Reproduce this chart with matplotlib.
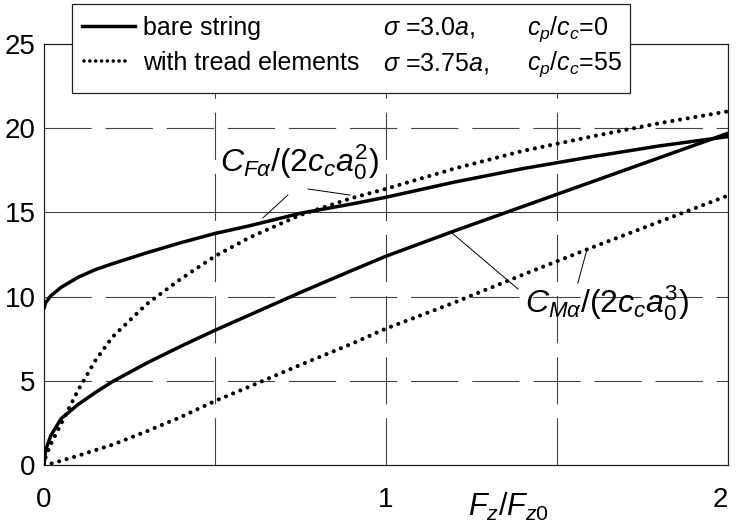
import matplotlib
matplotlib.use("Agg")
import matplotlib.pyplot as plt
from matplotlib.lines import Line2D
from matplotlib.patches import Rectangle

plt.rcParams['font.family'] = ['Liberation Sans', 'DejaVu Sans']
plt.rcParams['mathtext.fontset'] = 'custom'
plt.rcParams['mathtext.rm'] = 'Liberation Sans'
plt.rcParams['mathtext.it'] = 'Liberation Sans:italic'
plt.rcParams['mathtext.bf'] = 'Liberation Sans:bold'
plt.rcParams['lines.scale_dashes'] = False

# F_z / F_z0 sample points
fz = [0, 0.005, 0.02, 0.05, 0.1, 0.15, 0.2, 0.3, 0.4, 0.5, 0.6, 0.75, 0.9,
      1.0, 1.2, 1.4, 1.6, 1.8, 2.0]

# bare string
cf_bare = [9.3, 9.65, 10.05, 10.55, 11.15, 11.6, 11.95, 12.6, 13.2, 13.75, 14.2,
           14.95, 15.5, 15.9, 16.8, 17.6, 18.3, 18.95, 19.5]
cm_bare = [0, 0.9, 1.75, 2.75, 3.6, 4.3, 4.95, 6.05, 7.05, 8.0, 8.9, 10.25, 11.55,
           12.4, 13.9, 15.35, 16.8, 18.25, 19.7]

# with tread elements
cf_tread = [0, 0.5, 1.25, 2.45, 4.45, 6.2, 7.6, 9.55, 11.05, 12.4, 13.5, 14.85,
            15.85, 16.4, 17.6, 18.65, 19.5, 20.3, 21.0]
cm_tread = [0, 0.02, 0.08, 0.25, 0.55, 0.88, 1.2, 2.0, 2.85, 3.8, 4.65, 5.95,
            7.2, 8.1, 9.65, 11.3, 12.9, 14.45, 16.0]

xticks = [0, 1, 2]
yticks = [0, 5, 10, 15, 20, 25]

W, H = 738, 526
fig = plt.figure(figsize=(W / 100, H / 100), dpi=100)
ax = fig.add_axes([44 / W, 1 - 465 / H, 684 / W, 421 / H])

# grid: dashed except the solid 15 line
grid_kw = dict(color='#444444', lw=0.8, zorder=1)
dash = (0, (34, 10))
for y in [5, 10, 20]:
    ax.axhline(y, linestyle=dash, **grid_kw)
ax.axhline(15, linestyle='-', **grid_kw)
for x in [0.5, 1.0, 1.5]:
    ax.axvline(x, linestyle=dash, **grid_kw)

solid_kw = dict(color='black', lw=2.5, solid_capstyle='round', zorder=3)
dot_kw = dict(color='black', lw=3.0, linestyle=(0, (0.01, 5.6)),
              dash_capstyle='round', zorder=3)
ax.plot(fz, cf_bare, **solid_kw)
ax.plot(fz, cm_bare, **solid_kw)
ax.plot(fz, cf_tread, **dot_kw)
ax.plot(fz, cm_tread, **dot_kw)

ax.set_xlim(0, 2)
ax.set_ylim(0, 25)
ax.set_xticks(xticks)
ax.set_yticks(yticks)
ax.tick_params(length=0, labelsize=20)
ax.tick_params(axis='x', pad=16)
ax.tick_params(axis='y', pad=6)
ax.get_xticklabels()[-1].set_ha('right')
for s in ax.spines.values():
    s.set_color('#222222')
    s.set_linewidth(0.9)

# curve labels with leader lines
ax.text(0.515, 17.4, r'$C_{F\alpha}/(2c_c a_0^2)$', fontsize=23, zorder=4)
ax.plot([0.713, 0.640], [16.03, 14.67], color='black', lw=0.7, zorder=4)
ax.plot([0.772, 0.895], [16.39, 16.03], color='black', lw=0.7, zorder=4)
ax.text(1.405, 9.03, r'$C_{M\alpha}/(2c_c a_0^3)$', fontsize=23, zorder=4)
ax.plot([1.193, 1.386], [13.78, 10.45], color='black', lw=0.7, zorder=4)
ax.plot([1.588, 1.561], [12.83, 10.81], color='black', lw=0.7, zorder=4)

fig.text(468 / W, 1 - 516 / H, r'$F_z/F_{z0}$', fontsize=22)

# legend box drawn in figure pixels
def fx(p):
    return p / W

def fy(p):
    return 1 - p / H

fig.add_artist(Rectangle((fx(72), fy(93)), fx(630) - fx(72), fy(4) - fy(93),
                         transform=fig.transFigure, facecolor='white',
                         edgecolor='#222222', lw=0.9, zorder=10))
fig.add_artist(Line2D([fx(82), fx(135)], [fy(26), fy(26)], color='black', lw=2.5,
                      zorder=11))
fig.add_artist(Line2D([fx(84), fx(128)], [fy(61), fy(61)], color='black', lw=2.6,
                      linestyle=(0, (0.01, 4.2)), dash_capstyle='round', zorder=11))
leg_kw = dict(fontsize=18, zorder=12, va='baseline')
fig.text(fx(143), fy(35), 'bare string', **leg_kw)
fig.text(fx(143), fy(70), 'with tread elements', **leg_kw)
fig.text(fx(383), fy(35), r'$\sigma$ =3.0$a$,', **leg_kw)
fig.text(fx(383), fy(70), r'$\sigma$ =3.75$a$,', **leg_kw)
fig.text(fx(527), fy(35), r'$c_p/c_c$=0', **leg_kw)
fig.text(fx(527), fy(70), r'$c_p/c_c$=55', **leg_kw)

fig.savefig('out.png', dpi=100)
